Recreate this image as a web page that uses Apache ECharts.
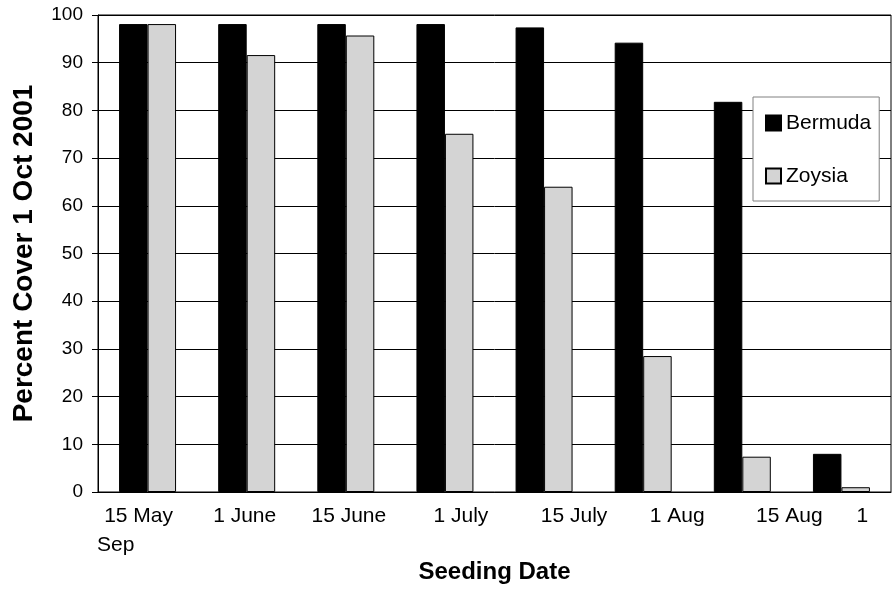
<!DOCTYPE html>
<html>
<head>
<meta charset="utf-8">
<title>Percent Cover by Seeding Date</title>
<script src="https://cdn.jsdelivr.net/npm/echarts@6/dist/echarts.min.js"></script>
<style>
  html, body { margin: 0; padding: 0; background: #fff; }
  #chart { width: 892px; height: 593px; }
</style>
</head>
<body>
<div id="chart"></div>
<script>
// Seeding dates (category axis) and percent cover on 1 Oct 2001
const seedingDates = ['15 May', '1 June', '15 June', '1 July', '15 July', '1 Aug', '15 Aug', '1 Sep'];
const bermuda = [98.1, 98.1, 98.1, 98.1, 97.4, 94.2, 81.8, 8.0];
const zoysia = [98.1, 91.6, 95.7, 75.1, 64.0, 28.5, 7.4, 1.0];
const yTicks = [0, 10, 20, 30, 40, 50, 60, 70, 80, 90, 100];

const FONT = 'Liberation Sans, Arial, sans-serif';

// horizontal nudges for each date label (px, relative to the category centre)
const labelShift = [-9, -2, 3, 16, 30, 34, 47, 21];

const rich = {};
labelShift.forEach(function (dx, i) {
  rich['l' + i] = {
    fontFamily: FONT,
    fontSize: 21,
    color: '#000',
    padding: dx >= 0 ? [0, 0, 0, 2 * dx] : [0, -2 * dx, 0, 0]
  };
});

const chart = echarts.init(document.getElementById('chart'), null, { renderer: 'canvas' });

const lastParts = seedingDates[seedingDates.length - 1].split(' ');

chart.setOption({
  animation: false,
  backgroundColor: '#fff',
  textStyle: { fontFamily: FONT },
  grid: {
    left: 98, right: 1, top: 15, bottom: 101,
    show: true, borderColor: '#000', borderWidth: 1, backgroundColor: 'transparent'
  },
  legend: {
    orient: 'vertical',
    left: 753, top: 97,
    padding: [15, 8, 14, 12],
    backgroundColor: '#fff',
    borderColor: '#808080', borderWidth: 1,
    itemWidth: 15, itemHeight: 15, itemGap: 31,
    icon: 'rect',
    textStyle: { fontFamily: FONT, fontSize: 21, color: '#000', lineHeight: 22 },
    data: ['Bermuda', 'Zoysia']
  },
  xAxis: {
    type: 'category',
    data: seedingDates,
    name: 'Seeding Date',
    nameLocation: 'middle',
    nameGap: 68,
    nameTextStyle: { fontFamily: FONT, fontSize: 24, fontWeight: 'bold', color: '#000' },
    axisLine: { lineStyle: { color: '#000', width: 1 } },
    axisTick: { show: false },
    axisLabel: {
      interval: 0,
      margin: 14,
      formatter: function (v, i) {
        // the last date wraps: only its day number sits on this row
        const text = i === seedingDates.length - 1 ? lastParts[0] : v;
        return '{l' + i + '|' + text + '}';
      },
      rich: rich
    }
  },
  yAxis: {
    type: 'value',
    min: yTicks[0], max: yTicks[yTicks.length - 1], interval: 10,
    name: 'Percent Cover 1 Oct 2001',
    nameLocation: 'middle',
    nameRotate: 90,
    nameGap: 60,
    nameTextStyle: { fontFamily: FONT, fontSize: 28, fontWeight: 'bold', color: '#000' },
    axisLine: { show: true, lineStyle: { color: '#000', width: 1 } },
    axisTick: { show: true, length: 6, lineStyle: { color: '#000' } },
    axisLabel: { margin: 15, fontFamily: FONT, fontSize: 19, color: '#000' },
    splitLine: { show: true, lineStyle: { color: '#000', width: 1 } }
  },
  graphic: [{
    // wrapped remainder of the last date label
    type: 'text',
    left: 97, top: 535,
    style: { text: lastParts[1], fontFamily: FONT, fontSize: 21, fill: '#000' }
  }],
  series: [
    {
      name: 'Bermuda', type: 'bar', data: bermuda,
      barGap: '0%', barCategoryGap: '42.5%',
      itemStyle: { color: '#000', borderColor: '#000', borderWidth: 1 }
    },
    {
      name: 'Zoysia', type: 'bar', data: zoysia,
      barGap: '0%', barCategoryGap: '42.5%',
      itemStyle: { color: '#d4d4d4', borderColor: '#000', borderWidth: 1 }
    }
  ]
});
</script>
</body>
</html>
